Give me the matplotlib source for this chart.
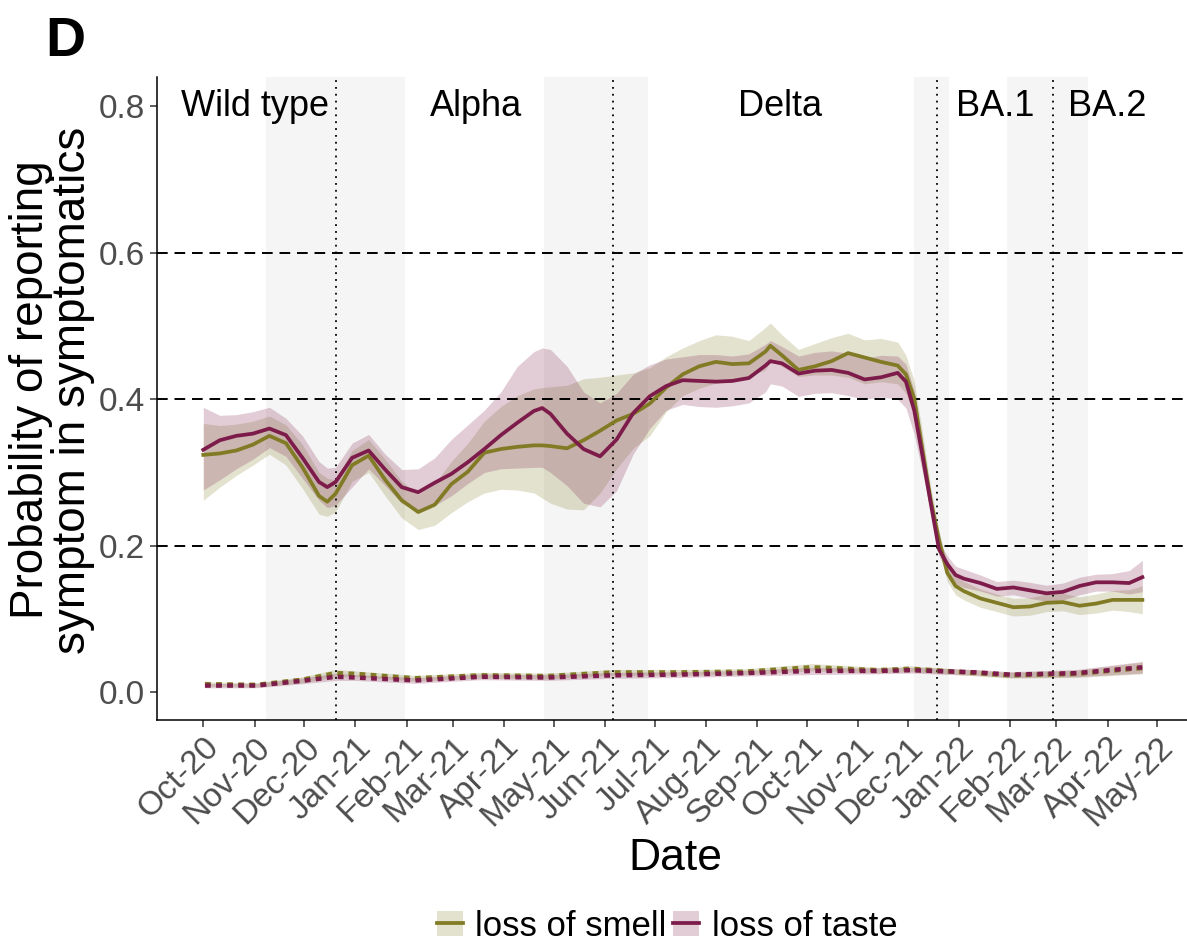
import matplotlib
matplotlib.use("Agg")
import matplotlib.pyplot as plt
import matplotlib.dates as mdates
import numpy as np
from matplotlib.patches import Patch
from matplotlib.lines import Line2D
from matplotlib.legend_handler import HandlerTuple

plt.rcParams['font.family'] = ['Liberation Sans', 'DejaVu Sans']

start = np.datetime64('2020-10-01')

# day offsets from 1 Oct 2020 for the smoothed curves
days = [0, 10, 20, 30, 40, 50, 60, 70, 75, 80, 90, 100, 110, 120, 130, 140, 150, 160,
        170, 180, 190, 200, 205, 210, 220, 230, 240, 250, 260, 270, 280, 290, 300, 310,
        320, 330, 340, 343, 350, 360, 370, 380, 390, 400, 410, 420,
        425, 430, 435, 440, 445, 450, 455, 460,
        470, 480, 490, 500, 510, 520, 530, 540, 550, 560, 568]

taste = [.331, .344, .350, .353, .360, .351, .320, .287, .280, .287, .320, .330, .304, .280,
         .273, .286, .298, .314, .332, .351, .368, .384, .388, .380, .353, .332, .322, .345,
         .381, .404, .418, .426, .425, .424, .425, .429, .446, .452, .449, .435, .439, .440,
         .436, .427, .430, .436,
         .424, .385, .323, .258, .195, .175, .160, .155,
         .149, .141, .143, .139, .135, .137, .145, .150, .150, .149, .157]
taste_hi = [.389, .378, .379, .383, .389, .374, .350, .315, .306, .307, .340, .352, .325, .304,
            .305, .320, .345, .365, .385, .410, .445, .465, .470, .468, .445, .410, .395, .408,
            .434, .447, .455, .458, .461, .461, .459, .462, .475, .480, .472, .459, .464, .466,
            .463, .456, .460, .459,
            .448, .412, .345, .270, .205, .186, .172, .168,
            .160, .151, .153, .150, .146, .149, .157, .161, .162, .166, .180]
taste_lo = [.276, .290, .305, .318, .334, .322, .292, .262, .252, .255, .280, .305, .282, .258,
            .248, .255, .268, .285, .300, .305, .306, .307, .307, .300, .282, .258, .253, .275,
            .325, .360, .385, .393, .390, .389, .391, .395, .410, .421, .418, .404, .408, .409,
            .405, .400, .403, .400,
            .388, .352, .300, .245, .186, .163, .148, .143,
            .138, .131, .133, .128, .124, .126, .133, .138, .138, .134, .137]

smell = [.324, .326, .330, .338, .350, .340, .307, .268, .260, .271, .310, .323, .290, .262,
         .246, .256, .284, .301, .327, .332, .335, .337, .337, .336, .333, .344, .357, .371,
         .380, .394, .416, .434, .445, .451, .448, .449, .465, .473, .460, .440, .445, .452,
         .463, .457, .451, .446,
         .434, .401, .330, .262, .208, .163, .145, .138,
         .128, .122, .116, .117, .122, .123, .118, .121, .126, .126, .126]
smell_hi = [.367, .364, .366, .370, .377, .365, .338, .300, .292, .290, .330, .345, .318, .288,
            .270, .285, .315, .340, .370, .390, .405, .414, .416, .417, .419, .428, .430, .433,
            .436, .443, .458, .470, .480, .488, .486, .480, .498, .504, .488, .468, .476, .484,
            .490, .481, .483, .478,
            .460, .425, .355, .280, .220, .175, .158, .151,
            .141, .134, .128, .129, .134, .135, .130, .134, .139, .140, .145]
smell_lo = [.262, .280, .296, .310, .325, .310, .278, .243, .240, .246, .288, .300, .268, .238,
            .222, .228, .245, .260, .272, .277, .276, .272, .265, .258, .250, .249, .272, .305,
            .333, .350, .383, .405, .415, .422, .424, .431, .440, .452, .445, .431, .433, .433,
            .430, .421, .424, .421,
            .408, .378, .305, .244, .195, .151, .133, .126,
            .116, .110, .104, .105, .110, .111, .106, .108, .112, .110, .107]

# asymptomatic-level curves near zero
low_days = [1, 32, 60, 80, 92, 128, 168, 208, 248, 288, 328, 368, 408, 428, 468, 488, 528, 568]
low_taste = [.009, .009, .0155, .021, .020, .016, .021, .020, .023, .024, .026, .029,
             .029, .030, .027, .024, .026, .034]
low_smell = [.011, .010, .017, .026, .025, .019, .023, .022, .027, .027, .028, .034,
             .030, .032, .026, .023, .025, .033]
low_halfwidth = [.003, .003, .004, .005, .004, .004, .004, .004, .004, .004, .004, .005,
                 .004, .004, .004, .004, .005, .008]

variant_names = ["Wild type", "Alpha", "Delta", "BA.1", "BA.2"]
variant_pos = ["2020-11-01", "2021-03-15", "2021-09-15", "2022-01-23", "2022-04-01"]
switch_dates = ["2020-12-20", "2021-06-06", "2021-12-19", "2022-02-27"]
transitions = [("2020-11-08", "2021-01-31"), ("2021-04-25", "2021-06-27"),
               ("2021-12-05", "2021-12-26"), ("2022-01-30", "2022-03-20")]
month_ticks = np.arange(np.datetime64('2020-10'), np.datetime64('2022-06'),
                        np.timedelta64(1, 'M')).astype('datetime64[D]')

smell_col = "#817b25"
taste_col = "#7d1c4a"
band_alpha = 0.22

x = start + np.array(days)
xl = start + np.array(low_days)
lt = np.array(low_taste)
ls = np.array(low_smell)
hw = np.array(low_halfwidth)

fig = plt.figure(figsize=(11.87, 9.42), dpi=100)
ax = fig.add_axes([157/1187, 1 - 720/942, 1 - 157/1187, (720 - 77)/942])

for a, b in transitions:
    ax.axvspan(np.datetime64(a), np.datetime64(b), color="#f5f5f5", lw=0, zorder=0)

ax.fill_between(x, smell_lo, smell_hi, color=smell_col, alpha=band_alpha, lw=0, zorder=1)
ax.fill_between(x, taste_lo, taste_hi, color=taste_col, alpha=band_alpha, lw=0, zorder=1)
ax.fill_between(xl, ls - hw, ls + hw, color=smell_col, alpha=band_alpha, lw=0, zorder=1)
ax.fill_between(xl, lt - hw, lt + hw, color=taste_col, alpha=band_alpha, lw=0, zorder=1)

for yv in [0.2, 0.4, 0.6]:
    ax.axhline(yv, color="black", lw=1.4, dashes=(5.5, 3.5), zorder=2)
for d in switch_dates:
    ax.axvline(np.datetime64(d), color="black", lw=1.3, dashes=(1, 2.8), zorder=2)

ax.plot(x, smell, color=smell_col, lw=2.7, zorder=3, solid_joinstyle='round')
ax.plot(x, taste, color=taste_col, lw=2.7, zorder=3, solid_joinstyle='round')
ax.plot(xl, ls, color=smell_col, lw=3.2, dashes=(1.3, 1.2), zorder=3)
ax.plot(xl, lt, color=taste_col, lw=3.2, dashes=(1.3, 1.2), zorder=3)

for name, pos in zip(variant_names, variant_pos):
    ax.text(np.datetime64(pos), 0.8, name, fontsize=26, ha="center", va="center", zorder=4)

ax.set_xlim(np.datetime64('2020-09-03'), np.datetime64('2022-05-19'))
ax.set_ylim(-0.038, 0.84)
ax.set_xticks(month_ticks)
ax.xaxis.set_major_formatter(mdates.DateFormatter('%b-%y'))
ax.set_yticks([0.0, 0.2, 0.4, 0.6, 0.8])
ax.set_yticklabels(["0.0", "0.2", "0.4", "0.6", "0.8"])
ax.tick_params(axis='both', labelsize=24, labelcolor="#4d4d4d", color="#333333",
               length=5, width=1.1)
for lab in ax.get_xticklabels():
    lab.set_rotation(45)
    lab.set_ha("right")
    lab.set_va("top")
    lab.set_rotation_mode("anchor")

for s in ["top", "right"]:
    ax.spines[s].set_visible(False)
for s in ["left", "bottom"]:
    ax.spines[s].set_linewidth(1.1)

fig.text(52/1187, 1 - 390/942, "Probability of reporting\nsymptom in symptomatics",
         rotation=90, fontsize=33, ha="center", va="center", linespacing=0.95)
fig.text(675/1187, 1 - 858/942, "Date", fontsize=32, ha="center", va="center")
fig.text(45/1187, 1 - 42/942, "D", fontsize=40, fontweight="bold", ha="left", va="center")

handles = [(Patch(color=smell_col, alpha=band_alpha, lw=0), Line2D([], [], color=smell_col, lw=2.7)),
           (Patch(color=taste_col, alpha=band_alpha, lw=0), Line2D([], [], color=taste_col, lw=2.7))]
fig.legend(handles, ["loss of smell", "loss of taste"], loc="center",
           bbox_to_anchor=(667/1187, 1 - 926/942), ncol=2, frameon=False, fontsize=25,
           handler_map={tuple: HandlerTuple(ndivide=1, pad=0)},
           handlelength=0.75, handleheight=0.75, handletextpad=0.35, columnspacing=0.2,
           borderpad=0)

fig.savefig("out.png", dpi=100)
plt.close()
